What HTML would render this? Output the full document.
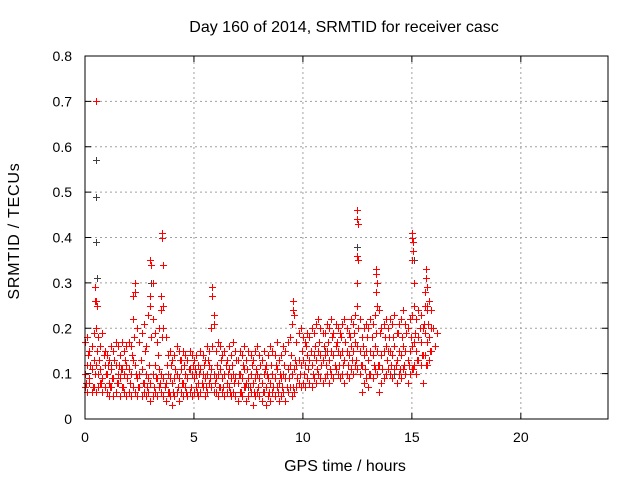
<!DOCTYPE html>
<html><head><meta charset="utf-8"><style>
body{margin:0;background:#fff;}
svg{display:block;font-family:"Liberation Sans",sans-serif;}
</style></head><body>
<svg id="chart" width="640" height="480">
<rect width="640" height="480" fill="#fff"/>
<g id="grid"></g>
<g id="axes"></g>
<g id="marks"></g>
<rect x="85" y="56" width="523" height="363" fill="none" stroke="#000" stroke-width="1"/>
<text x="344" y="32" text-anchor="middle" font-size="16">Day 160 of 2014, SRMTID for receiver casc</text>
<text x="345" y="471" text-anchor="middle" font-size="16">GPS time / hours</text>
<text x="19" y="231" text-anchor="middle" font-size="16" letter-spacing="0.8" transform="rotate(-90 19 231)">SRMTID / TECUs</text>
</svg>
<script>
const xTicks=[0,5,10,15,20];
const yTicks=[0,0.1,0.2,0.3,0.4,0.5,0.6,0.7,0.8];
const yTickLabels=["0","0.1","0.2","0.3","0.4","0.5","0.6","0.7","0.8"];
const seriesLo=[0.07,0.06,0.08,0.06,0.07,0.06,0.07,0.08,0.06,0.07,0.06,0.05,0.07,0.05,0.06,0.08,0.05,0.07,0.06,0.05,0.06,0.05,0.07,0.06,0.05,0.07,0.05,0.06,0.05,0.06,0.04,0.05,0.06,0.05,0.07,0.06,0.05,0.04,0.06,0.05,0.03,0.05,0.06,0.04,0.06,0.05,0.07,0.05,0.06,0.05,0.06,0.07,0.05,0.06,0.07,0.05,0.06,0.08,0.07,0.06,0.06,0.05,0.07,0.06,0.05,0.06,0.07,0.05,0.06,0.05,0.04,0.06,0.05,0.07,0.04,0.05,0.06,0.03,0.05,0.06,0.05,0.04,0.06,0.03,0.05,0.04,0.06,0.05,0.07,0.04,0.05,0.06,0.04,0.06,0.07,0.05,0.06,0.07,0.08,0.07,0.08,0.07,0.09,0.08,0.07,0.09,0.08,0.10,0.09,0.08,0.09,0.10,0.08,0.10,0.09,0.11,0.10,0.09,0.10,0.08,0.10,0.09,0.11,0.10,0.12,0.11,0.10,0.06,0.08,0.09,0.07,0.10,0.09,0.11,0.10,0.06,0.08,0.09,0.10,0.11,0.10,0.09,0.11,0.08,0.10,0.09,0.11,0.10,0.08,0.10,0.11,0.12,0.10,0.13,0.12,0.08,0.14,0.12,0.13,0.15];
const seriesMid=[0.10,0.12,0.09,0.11,0.13,0.12,0.10,0.11,0.09,0.12,0.10,0.08,0.11,0.09,0.12,0.10,0.09,0.11,0.10,0.12,0.11,0.10,0.13,0.12,0.09,0.10,0.11,0.08,0.10,0.09,0.08,0.10,0.12,0.09,0.11,0.10,0.09,0.08,0.10,0.09,0.08,0.09,0.10,0.09,0.11,0.08,0.10,0.09,0.11,0.10,0.09,0.10,0.08,0.11,0.10,0.09,0.10,0.12,0.11,0.10,0.09,0.10,0.11,0.09,0.10,0.08,0.11,0.09,0.10,0.09,0.08,0.10,0.09,0.11,0.08,0.09,0.10,0.08,0.09,0.10,0.09,0.08,0.10,0.07,0.09,0.08,0.10,0.09,0.11,0.08,0.09,0.10,0.09,0.11,0.12,0.10,0.11,0.12,0.13,0.12,0.13,0.12,0.14,0.13,0.12,0.14,0.13,0.15,0.14,0.13,0.14,0.15,0.13,0.15,0.14,0.16,0.15,0.14,0.15,0.13,0.15,0.14,0.16,0.15,0.17,0.16,0.15,0.12,0.14,0.15,0.13,0.15,0.14,0.16,0.15,0.12,0.14,0.15,0.16,0.15,0.15,0.14,0.16,0.13,0.15,0.14,0.16,0.15,0.13,0.15,0.16,0.17,0.15,0.18,0.17,0.14,0.19,0.17,0.18,0.20];
const seriesHi=[0.17,0.18,0.15,0.16,0.19,0.20,0.18,0.16,0.19,0.15,0.14,0.13,0.16,0.15,0.17,0.16,0.14,0.17,0.15,0.16,0.17,0.16,0.22,0.28,0.20,0.17,0.19,0.21,0.16,0.23,0.25,0.22,0.19,0.17,0.20,0.24,0.20,0.18,0.14,0.15,0.13,0.14,0.16,0.15,0.13,0.15,0.14,0.13,0.15,0.14,0.13,0.14,0.12,0.15,0.14,0.13,0.16,0.15,0.20,0.21,0.15,0.17,0.16,0.14,0.15,0.13,0.16,0.14,0.17,0.15,0.13,0.15,0.14,0.16,0.13,0.15,0.14,0.13,0.15,0.16,0.14,0.13,0.15,0.12,0.14,0.16,0.15,0.14,0.17,0.13,0.14,0.16,0.15,0.17,0.18,0.21,0.23,0.17,0.19,0.20,0.18,0.17,0.19,0.18,0.20,0.19,0.21,0.22,0.20,0.19,0.19,0.21,0.20,0.22,0.19,0.21,0.20,0.19,0.21,0.22,0.20,0.19,0.22,0.21,0.23,0.25,0.22,0.18,0.20,0.21,0.20,0.22,0.21,0.23,0.25,0.24,0.20,0.21,0.22,0.20,0.22,0.21,0.23,0.19,0.21,0.22,0.24,0.21,0.20,0.22,0.23,0.25,0.22,0.24,0.23,0.20,0.25,0.24,0.26,0.24];
const seriesMidB=[0.08,0.14,0.12,0.07,0.10,0.15,0.13,0.08,0.14,0.10,0.12,0.07,0.09,0.13,0.08,0.12,0.11,0.07,0.13,0.09,0.08,0.14,0.18,0.10,0.07,0.13,0.08,0.15,0.07,0.12,0.18,0.07,0.09,0.14,0.08,0.18,0.07,0.12,0.06,0.12,0.06,0.11,0.07,0.13,0.08,0.12,0.06,0.11,0.07,0.12,0.11,0.06,0.10,0.08,0.12,0.07,0.13,0.09,0.16,0.08,0.12,0.07,0.13,0.07,0.12,0.10,0.06,0.12,0.08,0.13,0.10,0.06,0.12,0.07,0.11,0.07,0.12,0.06,0.11,0.07,0.12,0.06,0.11,0.10,0.06,0.12,0.07,0.12,0.06,0.10,0.07,0.12,0.07,0.09,0.14,0.07,0.13,0.09,0.10,0.15,0.10,0.16,0.11,0.15,0.10,0.16,0.11,0.17,0.12,0.16,0.12,0.17,0.11,0.18,0.12,0.17,0.12,0.18,0.12,0.17,0.12,0.18,0.13,0.19,0.13,0.20,0.12,0.16,0.11,0.18,0.10,0.18,0.12,0.19,0.12,0.19,0.11,0.18,0.13,0.18,0.12,0.18,0.12,0.19,0.11,0.18,0.12,0.19,0.12,0.18,0.11,0.19,0.13,0.20,0.14,0.21,0.12,0.21,0.15,0.20,0.16,0.19];
const spikeTimes=[0.5,0.5,0.45,0.45,0.55,2.3,2.2,3.0,3.05,3.1,3.0,3.55,3.55,3.6,3.5,3.6,5.85,5.85,5.9,9.55,9.55,9.6,12.5,12.5,12.55,12.5,12.55,12.5,12.5,13.35,13.35,13.4,13.35,13.4,15.0,15.0,15.05,15.05,15.0,15.1,15.65,15.65,15.7,15.6,15.7];
const spikeValues=[0.70,0.26,0.29,0.26,0.25,0.30,0.27,0.35,0.34,0.30,0.27,0.41,0.40,0.34,0.27,0.25,0.29,0.27,0.23,0.26,0.24,0.23,0.46,0.44,0.43,0.36,0.35,0.30,0.25,0.33,0.32,0.30,0.28,0.25,0.41,0.40,0.39,0.37,0.35,0.30,0.33,0.31,0.29,0.28,0.25];
const grayTimes=[0.5,0.5,0.5,0.55,12.5,3.05,13.4,15.1,1.2,7.5,11.0,14.2];
const grayValues=[0.57,0.49,0.39,0.31,0.38,0.30,0.25,0.35,0.12,0.07,0.15,0.10];
const timeStep=0.1;

const NS="http://www.w3.org/2000/svg";
const X0=85,X1=608,Y0=419,Y1=56;
const xs=v=>X0+(v/24)*(X1-X0);
const ys=v=>Y0-(v/0.8)*(Y0-Y1);
function el(tag,attrs,parent){const e=document.createElementNS(NS,tag);for(const k in attrs)e.setAttribute(k,attrs[k]);parent.appendChild(e);return e;}
const grid=document.getElementById('grid'),axes=document.getElementById('axes'),marks=document.getElementById('marks');
xTicks.forEach((t,i)=>{
  const x=xs(t);
  if(t>0){const g=el('line',{x1:x,x2:x,y1:Y0,y2:Y1,stroke:'#a0a0a0','stroke-dasharray':'2,3'},grid);
  
  }
  const tk=el('path',{d:`M${x},${Y0}v-6M${x},${Y1}v6`,stroke:'#000'},axes);
  
  
  const tx=el('text',{x:x,y:442,'text-anchor':'middle','font-size':14},axes);
  tx.textContent=String(t);
  
  
});
yTicks.forEach((t,i)=>{
  const y=ys(t);
  if(t>0&&t<0.8){const g=el('line',{x1:X0,x2:X1,y1:y,y2:y,stroke:'#a0a0a0','stroke-dasharray':'2,3'},grid);
  
  }
  const tk=el('path',{d:`M${X0},${y}h6M${X1},${y}h-6`,stroke:'#000'},axes);
  
  
  const tx=el('text',{x:72,y:y+5,'text-anchor':'end','font-size':14},axes);
  tx.textContent=yTickLabels[i];
  
  
});
function plus(t,v,color,name){
  const x=Math.round(xs(t))+0.5,y=Math.round(ys(v))+0.5;
  const p=el('path',{d:`M${x-3.5},${y}h7M${x},${y-3.5}v7`,stroke:color,'stroke-width':1},marks);
  
  
}
grayTimes.forEach((t,i)=>plus(t,grayValues[i],'#404040','gray-point'));
[seriesLo,seriesMid,seriesHi].forEach(s=>s.forEach((v,i)=>plus(i*timeStep,v,'#ff0000','srmtid-point')));
seriesMidB.forEach((v,i)=>plus(i*timeStep+timeStep/2,v,'#ff0000','srmtid-point'));
spikeTimes.forEach((t,i)=>plus(t,spikeValues[i],'#ff0000','srmtid-spike-point'));
</script>
</body></html>
